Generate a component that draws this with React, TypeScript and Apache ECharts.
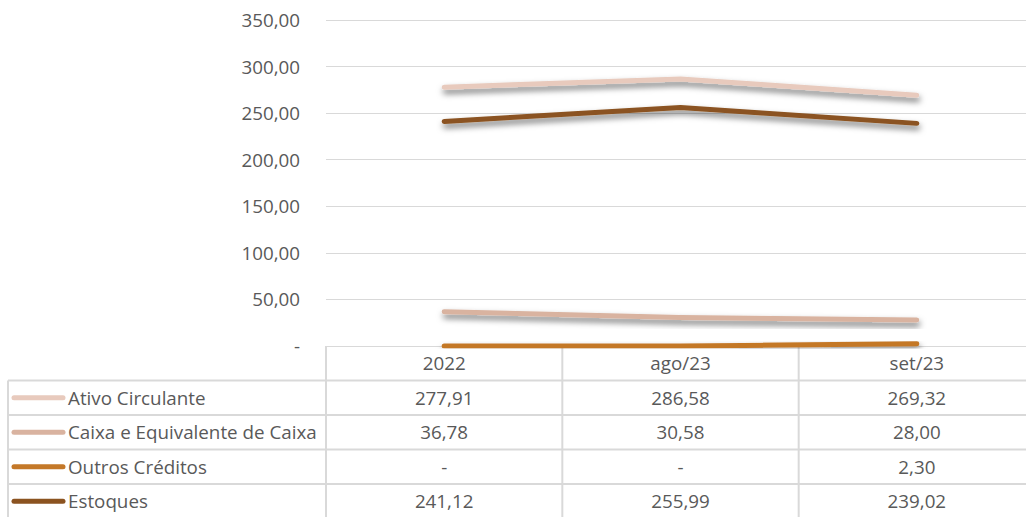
import React, { useEffect, useRef } from "react";
import * as echarts from "echarts";

const categories = ["2022", "ago/23", "set/23"];
const seriesNames = ["Ativo Circulante", "Caixa e Equivalente de Caixa", "Outros Créditos", "Estoques"];
const ativoCirculante = [277.91, 286.58, 269.32];
const caixaEquivalente = [36.78, 30.58, 28.0];
const outrosCreditos = [0, 0, 2.3];
const estoques = [241.12, 255.99, 239.02];
const seriesColors = ["#E8CABD", "#D9B3A0", "#C47828", "#8B5320"];
const yMin = 0;
const yMax = 350;
const yInterval = 50;

const allSeries = [ativoCirculante, caixaEquivalente, outrosCreditos, estoques];

const FONT = "Open Sans";
const FS = 18.8;
const TEXT = "#595959";
const LINE = "#D9D9D9";

const fmt = (v: number) => (v === 0 ? "-" : v.toFixed(2).replace(".", ","));

export default function App() {
  const ref = useRef<HTMLDivElement>(null);
  useEffect(() => {
    document.body.style.margin = "0";
    const el = ref.current!;
    const chart = echarts.init(el, null, { renderer: "svg" });
    const gridLeft = 326;
    const gridTop = 20;
    const gridBottomY = 346;
    const H = 517;
    const W = 1036;
    chart.setOption({
      animation: false,
      grid: { left: gridLeft, right: 1, top: gridTop, bottom: H - gridBottomY, containLabel: false },
      xAxis: {
        type: "category",
        data: categories,
        boundaryGap: true,
        axisLine: { show: false },
        axisTick: { show: false },
        axisLabel: {
          margin: 17,
          verticalAlign: "middle",
          color: TEXT,
          fontFamily: FONT,
          fontSize: FS,
        },
      },
      yAxis: {
        type: "value",
        min: yMin,
        max: yMax,
        interval: yInterval,
        axisLine: { show: false },
        axisTick: { show: false },
        splitLine: { lineStyle: { color: LINE, width: 1 } },
        axisLabel: {
          margin: 26,
          color: TEXT,
          fontFamily: FONT,
          fontSize: FS,
          formatter: (v: number) => fmt(v),
        },
      },
      series: seriesNames.map((name, i) => ({
        name,
        type: "line",
        data: allSeries[i],
        symbol: "none",
        z: 3,
        lineStyle: {
          color: seriesColors[i],
          width: 5,
          cap: "round",
          join: "round",
          shadowColor: "rgba(0,0,0,0.55)",
          shadowBlur: 6,
          shadowOffsetX: 1,
          shadowOffsetY: 4,
        },
      })),
    });

    const rowH = 34.5;
    const tableLeft = 8;
    const rightEdge = W - 1;
    const colW = (rightEdge - gridLeft) / categories.length;
    const centers = categories.map((c) => chart.convertToPixel({ xAxisIndex: 0 }, c) as number);
    const els: any[] = [];
    const ls = { stroke: LINE, lineWidth: 2 };
    for (let r = 1; r <= seriesNames.length + 1; r++) {
      const y = gridBottomY + r * rowH;
      els.push({ type: "line", shape: { x1: tableLeft, y1: y, x2: rightEdge, y2: y }, style: ls, silent: true });
    }
    els.push({
      type: "line",
      shape: { x1: tableLeft, y1: gridBottomY + rowH, x2: tableLeft, y2: H + 5 },
      style: ls,
      silent: true,
    });
    for (let c = 0; c <= categories.length; c++) {
      const x = gridLeft + c * colW;
      els.push({ type: "line", shape: { x1: x, y1: gridBottomY, x2: x, y2: H + 5 }, style: ls, silent: true });
    }
    seriesNames.forEach((name, i) => {
      const cy = gridBottomY + (i + 1) * rowH + rowH / 2;
      els.push({
        type: "line",
        shape: { x1: 14, y1: cy, x2: 63, y2: cy },
        style: { stroke: seriesColors[i], lineWidth: 5, lineCap: "round" },
        silent: true,
      });
      els.push({
        type: "text",
        x: 68,
        y: cy,
        style: { text: name, fill: TEXT, font: `${FS}px "${FONT}"`, textAlign: "left", textVerticalAlign: "middle" },
        silent: true,
      });
      allSeries[i].forEach((v, j) => {
        els.push({
          type: "text",
          x: centers[j],
          y: cy,
          style: { text: fmt(v), fill: TEXT, font: `${FS}px "${FONT}"`, textAlign: "center", textVerticalAlign: "middle" },
          silent: true,
        });
      });
    });
    chart.setOption({ graphic: { elements: els } });
    return () => chart.dispose();
  }, []);
  return (
    <div style={{ position: "fixed", left: 0, top: 0, width: 1026, height: 517, overflow: "hidden", background: "#fff" }}>
      <div ref={ref} style={{ width: 1036, height: 517 }} />
    </div>
  );
}
